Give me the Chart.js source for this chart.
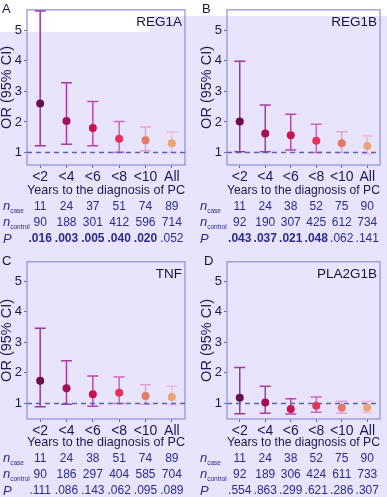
<!DOCTYPE html>
<html><head><meta charset="utf-8">
<script src="https://cdn.jsdelivr.net/npm/chart.js@4/dist/chart.umd.min.js"></script>
<style>
html,body{margin:0;padding:0;width:387px;height:497px;overflow:hidden;background:#e7e4fb;font-family:"Liberation Sans",Arial,sans-serif;}
.patch{position:absolute;background:#ffffff;}
canvas{position:absolute;}
.txt{position:absolute;white-space:nowrap;}
.letter{font-size:13px;color:#15153a;}
.gene{font-size:13.5px;color:#15153a;transform:translate(-100%,-50%);}
.cell{transform:translate(-50%,-50%);font-size:12px;color:#2b2b8c;}
.row{transform:translateY(-50%);color:#2b2b8c;font-style:italic;font-size:13px;}
.row sub{font-size:6.5px;font-style:normal;vertical-align:-3px;}
</style>
</head><body>
<div class="patch" style="left:0;top:0;width:387px;height:16px"></div>
<div class="patch" style="left:0;top:16px;width:150px;height:16px"></div>
<script>
// ---------- data ----------
const categories = ['<2', '<4', '<6', '<8', '<10', 'All'];
const yTicks = [1, 2, 3, 4, 5];
const xTitle = 'Years to the diagnosis of PC';
const yTitle = 'OR (95% CI)';

const orREG1A = [2.60, 2.03, 1.80, 1.45, 1.40, 1.30];
const loREG1A = [1.22, 1.27, 1.22, 1.01, 1.06, 1.00];
const hiREG1A = [5.63, 3.28, 2.67, 2.01, 1.83, 1.67];
const nCaseREG1A = [11, 24, 37, 51, 74, 89];
const nControlREG1A = [90, 188, 301, 412, 596, 714];
const pREG1A = ['.016', '.003', '.005', '.040', '.020', '.052'];

const orREG1B = [2.01, 1.62, 1.56, 1.38, 1.30, 1.21];
const loREG1B = [1.02, 1.02, 1.08, 1.00, 1.00, 0.96];
const hiREG1B = [3.99, 2.55, 2.25, 1.92, 1.68, 1.54];
const nCaseREG1B = [11, 24, 38, 52, 75, 90];
const nControlREG1B = [92, 190, 307, 425, 612, 734];
const pREG1B = ['.043', '.037', '.021', '.048', '.062', '.141'];

const orTNF = [1.74, 1.50, 1.30, 1.35, 1.24, 1.21];
const loTNF = [0.89, 0.97, 0.91, 1.00, 0.97, 0.95];
const hiTNF = [3.46, 2.40, 1.90, 1.87, 1.61, 1.56];
const nCaseTNF = [11, 24, 38, 51, 74, 89];
const nControlTNF = [90, 186, 297, 404, 585, 704];
const pTNF = ['.111', '.086', '.143', '.062', '.095', '.089'];

const orPLA2G1B = [1.19, 1.03, 0.82, 0.92, 0.86, 0.87];
const loPLA2G1B = [0.66, 0.68, 0.65, 0.71, 0.68, 0.70];
const hiPLA2G1B = [2.18, 1.56, 1.15, 1.21, 1.07, 1.07];
const nCasePLA2G1B = [11, 24, 38, 52, 75, 90];
const nControlPLA2G1B = [92, 189, 306, 424, 611, 733];
const pPLA2G1B = ['.554', '.863', '.299', '.621', '.286', '.307'];

// ---------- styles ----------
const dotColors = ['#6c0d4c', '#a50f55', '#cc1150', '#e6325b', '#e37a68', '#e9a477'];
const barColors = ['#98389f', '#a63ca6', '#b847ad', '#cc68b8', '#e4a2d2', '#efbadf'];
const axisText = '#1a1a4e';
const tickColor = '#6a6ab8';

const panels = [
  {gene:'REG1A', letter:'A', or:orREG1A, lo:loREG1A, hi:hiREG1A, nc:nCaseREG1A, nk:nControlREG1A, p:pREG1A,
   left:0, top:0, w:193, padR:8, h:200, xH:35, yMin:0.59, yMax:5.67, rowX:3, letterX:2},
  {gene:'REG1B', letter:'B', or:orREG1B, lo:loREG1B, hi:hiREG1B, nc:nCaseREG1B, nk:nControlREG1B, p:pREG1B,
   left:200, top:0, w:187, padR:2, h:200, xH:35, yMin:0.59, yMax:5.67, rowX:200, letterX:202},
  {gene:'TNF', letter:'C', or:orTNF, lo:loTNF, hi:hiTNF, nc:nCaseTNF, nk:nControlTNF, p:pTNF,
   left:0, top:252, w:193, padR:8, h:200, xH:33, yMin:0.49, yMax:5.64, rowX:3, letterX:2},
  {gene:'PLA2G1B', letter:'D', or:orPLA2G1B, lo:loPLA2G1B, hi:hiPLA2G1B, nc:nCasePLA2G1B, nk:nControlPLA2G1B, p:pPLA2G1B,
   left:200, top:252, w:187, padR:2, h:200, xH:33, yMin:0.49, yMax:5.64, rowX:200, letterX:204}
];

const boxPlugin = {
  id: 'box',
  beforeDatasetsDraw(chart) {
    const {ctx, chartArea: a} = chart;
    ctx.save();
    ctx.strokeStyle = '#8f90da';
    ctx.lineWidth = 1.2;
    ctx.strokeRect(a.left, a.top, a.right - a.left, a.bottom - a.top);
    ctx.restore();
  }
};

function addText(cls, html, x, y, extraStyle) {
  const d = document.createElement('div');
  d.className = 'txt ' + cls;
  d.innerHTML = html;
  d.style.left = x + 'px';
  d.style.top = y + 'px';
  if (extraStyle) d.style.cssText += extraStyle;
  document.body.appendChild(d);
  return d;
}

panels.forEach(P => {
  const cv = document.createElement('canvas');
  cv.width = P.w; cv.height = P.h;
  cv.style.left = P.left + 'px'; cv.style.top = P.top + 'px';
  cv.style.width = P.w + 'px'; cv.style.height = P.h + 'px';
  document.body.appendChild(cv);

  const datasets = [];
  datasets.push({
    type: 'line', order: 0, showLine: false,
    data: categories.map((c, i) => ({x: c, y: P.or[i]})),
    pointRadius: 4, pointBorderWidth: 0,
    pointBackgroundColor: dotColors, pointBorderColor: dotColors
  });
  datasets.push({
    type: 'line', order: 1, xAxisID: 'xl',
    data: [{x: 0, y: 1}, {x: 1, y: 1}],
    borderColor: '#5a62b3', borderWidth: 1.6, borderDash: [5, 4], pointRadius: 0
  });
  categories.forEach((c, i) => {
    datasets.push({
      type: 'line', order: 2,
      data: [{x: c, y: P.lo[i]}, {x: c, y: P.hi[i]}],
      borderColor: barColors[i], borderWidth: 1.5,
      pointStyle: 'line', pointRadius: 5.5, pointBorderWidth: 1.5,
      pointBorderColor: barColors[i], pointBackgroundColor: barColors[i]
    });
  });

  const chart = new Chart(cv, {
    type: 'line',
    data: {labels: categories, datasets},
    options: {
      responsive: false, animation: false, devicePixelRatio: 1,
      layout: {padding: {top: 5, right: P.padR, left: 0, bottom: 0}},
      plugins: {legend: {display: false}, tooltip: {enabled: false}},
      scales: {
        x: {
          type: 'category', offset: true,
          grid: {display: true, drawOnChartArea: false, drawTicks: true, tickLength: 3, color: tickColor},
          border: {display: false},
          ticks: {color: axisText, font: {size: 14, family: '"Liberation Sans", Arial'}, padding: 1, maxRotation: 0, autoSkip: false},
          title: {display: true, text: xTitle, color: axisText, font: {size: 13, family: '"Liberation Sans", Arial'}, padding: {top: 0, bottom: 2}},
          afterFit: s => { s.height = P.xH; }
        },
        xl: {type: 'linear', min: 0, max: 1, display: false},
        y: {
          type: 'linear', min: P.yMin, max: P.yMax,
          afterBuildTicks: s => { s.ticks = yTicks.map(v => ({value: v})); },
          grid: {display: true, drawOnChartArea: false, drawTicks: true, tickLength: 3, color: tickColor},
          border: {display: false},
          ticks: {color: axisText, font: {size: 13, family: '"Liberation Sans", Arial'}, padding: 2},
          title: {display: true, text: yTitle, color: axisText, font: {size: 14.5, family: '"Liberation Sans", Arial', lineHeight: 1}, padding: {top: 0, bottom: 0}},
          afterFit: s => { s.width = 27; }
        }
      }
    },
    plugins: [boxPlugin]
  });

  const a = chart.chartArea;
  addText('letter', P.letter, P.letterX, P.top + 1);
  addText('gene', P.gene, P.left + a.right - 3, P.top + a.top + 11);

  const rowY = [206, 222, 237.5];
  addText('row', 'n<sub>case</sub>', P.rowX, P.top + rowY[0]);
  addText('row', 'n<sub>control</sub>', P.rowX, P.top + rowY[1]);
  addText('row', 'P', P.rowX, P.top + rowY[2]);
  categories.forEach((c, i) => {
    const x = P.left + chart.scales.x.getPixelForValue(i);
    addText('cell', String(P.nc[i]), x, P.top + rowY[0]);
    addText('cell', String(P.nk[i]), x, P.top + rowY[1]);
    const bold = parseFloat(P.p[i]) < 0.05;
    addText('cell', P.p[i], x, P.top + rowY[2], bold ? 'font-weight:bold;' : '');
  });
});
</script>
</body></html>
